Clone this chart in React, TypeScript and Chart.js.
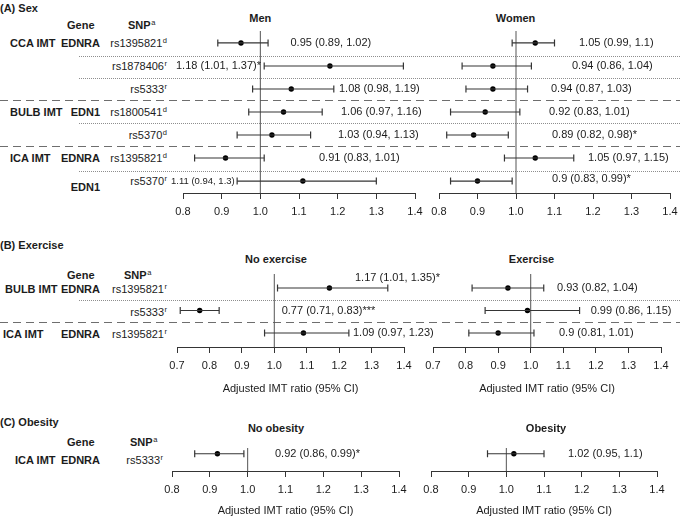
import React, { useEffect, useRef } from "react";
import { Chart, registerables } from "chart.js";

Chart.register(...registerables);

const FONT = "'Liberation Sans', Arial, Helvetica, sans-serif";
const INK = "#1c1c1c";
const LINE = "#353535";

// ================= DATA =================
// (A) Sex
const aOutcomes = ["CCA IMT", "", "", "BULB IMT", "", "ICA IMT", ""];
const aGenes = ["EDNRA", "", "", "EDN1", "", "EDNRA", "EDN1"];
const aSnps = ["rs1395821", "rs1878406", "rs5333", "rs1800541", "rs5370", "rs1395821", "rs5370"];
const aModels = ["d", "r", "r", "d", "d", "d", "r"];
const menEst = [0.95, 1.18, 1.08, 1.06, 1.03, 0.91, 1.11];
const menLo = [0.89, 1.01, 0.98, 0.97, 0.94, 0.83, 0.94];
const menHi = [1.02, 1.37, 1.19, 1.16, 1.13, 1.01, 1.3];
const menSig = ["", "*", "", "", "", "", ""];
const womenEst = [1.05, 0.94, 0.94, 0.92, 0.89, 1.05, 0.9];
const womenLo = [0.99, 0.86, 0.87, 0.83, 0.82, 0.97, 0.83];
const womenHi = [1.1, 1.04, 1.03, 1.01, 0.98, 1.15, 0.99];
const womenSig = ["", "", "", "", "*", "", "*"];
const sexTicks = [0.8, 0.9, 1.0, 1.1, 1.2, 1.3, 1.4];

// (B) Exercise
const bOutcomes = ["BULB IMT", "", "ICA IMT"];
const bGenes = ["EDNRA", "", "EDNRA"];
const bSnps = ["rs1395821", "rs5333", "rs1395821"];
const bModels = ["r", "r", "r"];
const noExEst = [1.17, 0.77, 1.09];
const noExLo = [1.01, 0.71, 0.97];
const noExHi = [1.35, 0.83, 1.23];
const noExSig = ["*", "***", ""];
const exEst = [0.93, 0.99, 0.9];
const exLo = [0.82, 0.86, 0.81];
const exHi = [1.04, 1.15, 1.01];
const exSig = ["", "", ""];
const exerciseTicks = [0.7, 0.8, 0.9, 1.0, 1.1, 1.2, 1.3, 1.4];

// (C) Obesity
const cOutcomes = ["ICA IMT"];
const cGenes = ["EDNRA"];
const cSnps = ["rs5333"];
const cModels = ["r"];
const noObEst = [0.92];
const noObLo = [0.86];
const noObHi = [0.99];
const noObSig = ["*"];
const obEst = [1.02];
const obLo = [0.95];
const obHi = [1.1];
const obSig = [""];
const obesityTicks = [0.8, 0.9, 1.0, 1.1, 1.2, 1.3, 1.4];

const AXIS_TITLE = "Adjusted IMT ratio (95% CI)";

// ================= LAYOUT =================
type Panel = {
  est: number[]; lo: number[]; hi: number[]; sig: string[]; ticks: number[];
  x0: number; x1: number; yTop: number; yBottom: number; yMin: number; yMax: number;
  ml: number; mr: number; hx: number; axisTitle?: string;
  textX: number[]; textDy: number[]; textSize: number[];
};

const MT = 14;
const MB = 2;

const geoA = { yTop: 31, yBottom: 193, yMin: -0.52, yMax: 6.52, hx: 30 };
const geoB = { yTop: 274, yBottom: 347, yMin: -0.6222, yMax: 2.6222, hx: 49 };
const geoC = { yTop: 447.5, yBottom: 470, yMin: -0.25, yMax: 0.75, hx: 47 };

const menPanel: Panel = {
  est: menEst, lo: menLo, hi: menHi, sig: menSig, ticks: sexTicks,
  x0: 183, x1: 415, ...geoA, ml: 20, mr: 16,
  textX: [290.5, 176, 339, 341, 338, 319, 171],
  textDy: [0, 0, 0, 0, 0, 0, 0],
  textSize: [11, 11, 11, 11, 11, 11, 9.5],
};
const womenPanel: Panel = {
  est: womenEst, lo: womenLo, hi: womenHi, sig: womenSig, ticks: sexTicks,
  x0: 439, x1: 669.5, ...geoA, ml: 16, mr: 16,
  textX: [579, 572, 551, 549, 552, 588, 552],
  textDy: [0, 0, 0, 0, 0, 0, -2],
  textSize: [11, 11, 11, 11, 11, 11, 11],
};
const noExPanel: Panel = {
  est: noExEst, lo: noExLo, hi: noExHi, sig: noExSig, ticks: exerciseTicks,
  x0: 177, x1: 404.3, ...geoB, ml: 16, mr: 44, axisTitle: AXIS_TITLE,
  textX: [355, 281.7, 353],
  textDy: [-10, 0, 0],
  textSize: [11, 11, 11],
};
const exPanel: Panel = {
  est: exEst, lo: exLo, hi: exHi, sig: exSig, ticks: exerciseTicks,
  x0: 432.7, x1: 660.7, ...geoB, ml: 16, mr: 16, axisTitle: AXIS_TITLE,
  textX: [557, 590.7, 559],
  textDy: [0, 0, 0],
  textSize: [11, 11, 11],
};
const noObPanel: Panel = {
  est: noObEst, lo: noObLo, hi: noObHi, sig: noObSig, ticks: obesityTicks,
  x0: 171.7, x1: 398.3, ...geoC, ml: 16, mr: 16, axisTitle: AXIS_TITLE,
  textX: [275], textDy: [0], textSize: [11],
};
const obPanel: Panel = {
  est: obEst, lo: obLo, hi: obHi, sig: obSig, ticks: obesityTicks,
  x0: 431, x1: 657.3, ...geoC, ml: 16, mr: 16, axisTitle: AXIS_TITLE,
  textX: [568], textDy: [0], textSize: [11],
};

function rowPx(g: { yTop: number; yBottom: number; yMin: number; yMax: number }, i: number) {
  return g.yTop + ((i - g.yMin) / (g.yMax - g.yMin)) * (g.yBottom - g.yTop);
}

// ================= COMPONENTS =================
function ForestChart({ p }: { p: Panel }) {
  const ref = useRef<HTMLCanvasElement>(null);
  const left = Math.round(p.x0 - p.ml);
  const top = Math.round(p.yTop - MT);
  const width = Math.round(p.x1 - p.x0 + p.ml + p.mr);
  const height = Math.round(p.yBottom - p.yTop + MT + p.hx + MB);

  useEffect(() => {
    const canvas = ref.current!;
    const datasets: any[] = [];
    p.est.forEach((_, i) => {
      datasets.push({
        data: [
          { x: p.lo[i], y: i },
          { x: p.hi[i], y: i },
        ],
        showLine: true,
        borderColor: LINE,
        borderWidth: 1.2,
        pointStyle: "line",
        pointRotation: 90,
        pointRadius: 3.5,
        pointBorderColor: LINE,
        pointBorderWidth: 1.2,
        pointBackgroundColor: LINE,
      });
    });
    datasets.push({
      data: p.est.map((v, i) => ({ x: v, y: i })),
      pointStyle: "circle",
      pointRadius: 2.7,
      pointBackgroundColor: "#000",
      pointBorderWidth: 0,
    });

    const refLine = {
      id: "refLine",
      beforeDatasetsDraw(chart: any) {
        const { ctx, chartArea, scales } = chart;
        const px = scales.x.getPixelForValue(1);
        ctx.save();
        ctx.strokeStyle = "#555";
        ctx.lineWidth = 1;
        ctx.beginPath();
        ctx.moveTo(px, chartArea.top);
        ctx.lineTo(px, chartArea.bottom);
        ctx.stroke();
        ctx.restore();
      },
    };
    const ciText = {
      id: "ciText",
      afterDatasetsDraw(chart: any) {
        const { ctx, scales } = chart;
        ctx.save();
        ctx.fillStyle = INK;
        ctx.textBaseline = "middle";
        ctx.textAlign = "left";
        p.est.forEach((v, i) => {
          ctx.font = `${p.textSize[i]}px ${FONT}`;
          ctx.fillText(
            `${v} (${p.lo[i]}, ${p.hi[i]})${p.sig[i]}`,
            p.textX[i] - left,
            scales.y.getPixelForValue(i) + p.textDy[i]
          );
        });
        ctx.restore();
      },
    };

    const chart = new Chart(canvas, {
      type: "scatter",
      data: { datasets },
      options: {
        animation: false,
        responsive: false,
        events: [],
        layout: { padding: { left: p.ml, right: p.mr, top: MT, bottom: MB } },
        plugins: {
          legend: { display: false },
          tooltip: { enabled: false },
          title: { display: false },
        },
        scales: {
          x: {
            type: "linear",
            position: "bottom",
            min: p.ticks[0],
            max: p.ticks[p.ticks.length - 1],
            afterBuildTicks: (s: any) => {
              s.ticks = p.ticks.map((v) => ({ value: v }));
            },
            afterFit: (s: any) => {
              s.height = p.hx;
            },
            ticks: {
              callback: (v: any) => Number(v).toFixed(1),
              font: { size: 11, family: FONT },
              color: INK,
              padding: 6,
              maxRotation: 0,
              autoSkip: false,
            },
            grid: {
              drawOnChartArea: false,
              drawTicks: true,
              tickLength: 6,
              color: LINE,
              lineWidth: 1,
            },
            border: { display: true, color: LINE, width: 1 },
            title: p.axisTitle
              ? {
                  display: true,
                  text: p.axisTitle,
                  font: { size: 11, family: FONT },
                  color: INK,
                  padding: { top: 0, bottom: 0 },
                }
              : { display: false },
          },
          y: {
            type: "linear",
            display: false,
            reverse: true,
            min: p.yMin,
            max: p.yMax,
          },
        },
      } as any,
      plugins: [refLine, ciText],
    });
    return () => chart.destroy();
  }, []);

  return (
    <canvas
      ref={ref}
      width={width}
      height={height}
      style={{ position: "absolute", left, top, width, height }}
    />
  );
}

function Lbl({
  x, y, text, sup, align = "left", bold = false, size = 11,
}: {
  x: number; y: number; text: string; sup?: string;
  align?: "left" | "right" | "center"; bold?: boolean; size?: number;
}) {
  const style: any = {
    position: "absolute",
    top: y - 8,
    height: 16,
    lineHeight: "16px",
    fontSize: size,
    fontWeight: bold ? "bold" : "normal",
    whiteSpace: "nowrap",
    color: INK,
  };
  if (align === "left") style.left = x;
  else if (align === "right") style.right = 680 - x;
  else {
    style.left = x;
    style.transform = "translateX(-50%)";
  }
  return (
    <div style={style}>
      {text}
      {sup ? (
        <span style={{ fontSize: 7.5, position: "relative", top: -4, marginLeft: 0.5, fontWeight: "normal" }}>
          {sup}
        </span>
      ) : null}
    </div>
  );
}

function Sep({ y, x0, dashed }: { y: number; x0: number; dashed?: boolean }) {
  return (
    <div
      style={{
        position: "absolute",
        left: x0,
        top: y,
        width: 680 - x0,
        height: 1,
        background: dashed
          ? "repeating-linear-gradient(90deg, #6e6e6e 0 8px, transparent 8px 13px)"
          : "repeating-linear-gradient(90deg, #8e8e8e 0 1px, transparent 1px 2px)",
      }}
    />
  );
}

// label layout
const OUT_X_A = [10, 0, 0, 10, 0, 10, 0];
const GENE_DY_A = [0, 0, 0, 0, 0, 0, 6];
const OUT_X_B = [5, 0, 3];
const OUT_X_C = [15];

export default function App() {
  const rowsA = aSnps.map((s, i) => rowPx(geoA, i));
  const rowsB = bSnps.map((s, i) => rowPx(geoB, i));
  const rowsC = cSnps.map((s, i) => rowPx(geoC, i) + 7);
  return (
    <div
      style={{
        position: "absolute",
        left: 0,
        top: 0,
        width: 680,
        height: 517,
        overflow: "hidden",
        background: "#fff",
        fontFamily: FONT,
      }}
    >
      {/* separators */}
      <Sep y={55.5} x0={79} />
      <Sep y={77.5} x0={79} />
      <Sep y={100} x0={0} dashed />
      <Sep y={122.5} x0={79} />
      <Sep y={146} x0={0} dashed />
      <Sep y={170.5} x0={79} />
      <Sep y={300} x0={79} />
      <Sep y={322} x0={0} dashed />

      {/* Panel A */}
      <Lbl x={0} y={8} text="(A) Sex" bold />
      <Lbl x={260.3} y={18} text="Men" bold align="center" />
      <Lbl x={515.5} y={18} text="Women" bold align="center" />
      <Lbl x={67} y={25} text="Gene" bold />
      <Lbl x={128} y={25} text="SNP" sup="a" bold />
      {aSnps.map((s, i) => (
        <React.Fragment key={"a" + i}>
          {aOutcomes[i] ? <Lbl x={OUT_X_A[i]} y={rowsA[i]} text={aOutcomes[i]} bold /> : null}
          {aGenes[i] ? <Lbl x={100} y={rowsA[i] + GENE_DY_A[i]} text={aGenes[i]} bold align="right" /> : null}
          <Lbl x={167} y={rowsA[i]} text={s} sup={aModels[i]} align="right" />
        </React.Fragment>
      ))}
      <ForestChart p={menPanel} />
      <ForestChart p={womenPanel} />

      {/* Panel B */}
      <Lbl x={0} y={245} text="(B) Exercise" bold />
      <Lbl x={276} y={259} text="No exercise" bold align="center" />
      <Lbl x={531.5} y={259} text="Exercise" bold align="center" />
      <Lbl x={67} y={275} text="Gene" bold />
      <Lbl x={124} y={275} text="SNP" sup="a" bold />
      {bSnps.map((s, i) => (
        <React.Fragment key={"b" + i}>
          {bOutcomes[i] ? <Lbl x={OUT_X_B[i]} y={rowsB[i] + 1} text={bOutcomes[i]} bold /> : null}
          {bGenes[i] ? <Lbl x={100} y={rowsB[i] + 1} text={bGenes[i]} bold align="right" /> : null}
          <Lbl x={167} y={rowsB[i] + 1} text={s} sup={bModels[i]} align="right" />
        </React.Fragment>
      ))}
      <ForestChart p={noExPanel} />
      <ForestChart p={exPanel} />

      {/* Panel C */}
      <Lbl x={0} y={422} text="(C) Obesity" bold />
      <Lbl x={276} y={428} text="No obesity" bold align="center" />
      <Lbl x={546} y={428} text="Obesity" bold align="center" />
      <Lbl x={67} y={441.5} text="Gene" bold />
      <Lbl x={130} y={441.5} text="SNP" sup="a" bold />
      {cSnps.map((s, i) => (
        <React.Fragment key={"c" + i}>
          <Lbl x={OUT_X_C[i]} y={rowsC[i]} text={cOutcomes[i]} bold />
          <Lbl x={100} y={rowsC[i]} text={cGenes[i]} bold align="right" />
          <Lbl x={163} y={rowsC[i]} text={s} sup={cModels[i]} align="right" />
        </React.Fragment>
      ))}
      <ForestChart p={noObPanel} />
      <ForestChart p={obPanel} />
    </div>
  );
}
